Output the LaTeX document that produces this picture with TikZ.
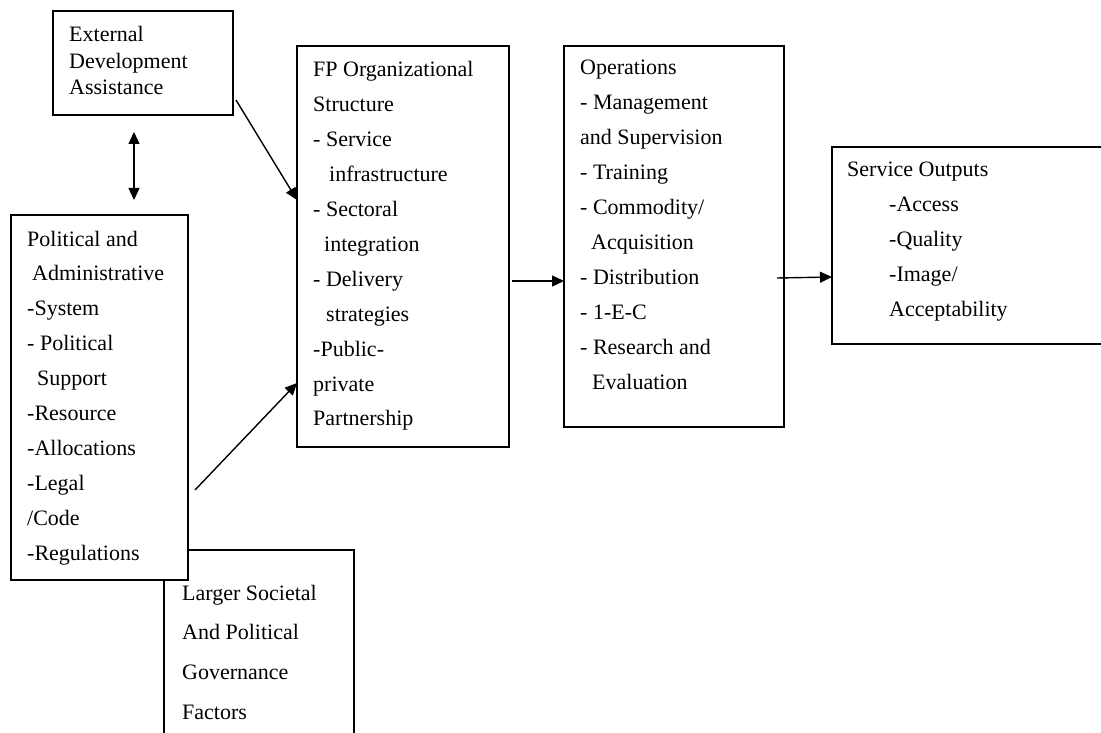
\documentclass[tikz,border=0pt]{standalone}
\usepackage{fontspec}
\setmainfont{Liberation Serif}
\usetikzlibrary{arrows.meta}

\newcommand{\boxlines}[1]{\parbox[t]{300pt}{\raggedright #1}}
\newcommand{\ind}[1]{\hspace*{#1pt}}

\tikzset{
  boxnode/.style={draw, line width=1.4pt, fill=white, inner sep=0pt, outer sep=0pt, anchor=north west},
  txt/.style={inner sep=0pt, anchor=base west},
  body/.style={txt, font=\fontsize{22}{34.9}\selectfont},
  tip/.style={Triangle[length=12pt,width=11pt]},
  flow/.style={line width=1.4pt, -{Triangle[length=12pt,width=11pt]}},
  twoway/.style={line width=1.4pt, {Triangle[length=12pt,width=11pt]}-{Triangle[length=12pt,width=11pt]}}
}

\begin{document}
\begin{tikzpicture}[x=1pt,y=-1pt]
  \useasboundingbox (0,0) rectangle (1101,733);
  \clip (0,0) rectangle (1101,733);
  \fill[white] (0,0) rectangle (1101,733);

  % boxes (the governance box sits behind the political box)
  \node[boxnode, minimum width=190pt, minimum height=210pt] (lrg) at (164,550) {};
  \node[boxnode, minimum width=180pt, minimum height=104pt] (ext) at (53,11) {};
  \node[boxnode, minimum width=177pt, minimum height=365pt] (pol) at (11,215) {};
  \node[boxnode, minimum width=212pt, minimum height=401pt] (fp) at (297,46) {};
  \node[boxnode, minimum width=220pt, minimum height=381pt] (ops) at (564,46) {};
  \node[boxnode, minimum width=300pt, minimum height=197pt] (svc) at (832,147) {};

  % box texts
  \node[txt, font=\fontsize{22}{26.3}\selectfont] (extT) at (69,42)
    {\boxlines{External\\Development\\Assistance}};
  \node[body] (polT) at (27,246)
    {\boxlines{Political and\\\ind{5}Administrative\\-System\\- Political\\\ind{10}Support\\-Resource\\-Allocations\\-Legal\\/Code\\-Regulations}};
  \node[txt, font=\fontsize{22}{39.7}\selectfont] (lrgT) at (182,600)
    {\boxlines{Larger Societal\\And Political\\Governance\\Factors}};
  \node[body] (fpT) at (313,77)
    {\boxlines{FP Organizational\\Structure\\- Service\\\ind{16}infrastructure\\- Sectoral\\\ind{11}integration\\- Delivery\\\ind{13}strategies\\-Public-\\private\\Partnership}};
  \node[body] (opsT) at (580,75)
    {\boxlines{Operations\\- Management\\and Supervision\\- Training\\- Commodity/\\\ind{11}Acquisition\\- Distribution\\- 1-E-C\\- Research and\\\ind{12}Evaluation}};
  \node[body] (svcT) at (847,177)
    {\boxlines{Service Outputs\\\ind{42}-Access\\\ind{42}-Quality\\\ind{42}-Image/\\\ind{42}Acceptability}};

  % connector end points
  \coordinate (pairTop) at (134,132);
  \coordinate (pairBot) at (134,200);
  \coordinate (extOut) at (236,100);
  \coordinate (polOut) at (195,490);
  \coordinate (opsOut) at (777,278);

  % connectors
  \draw[twoway] (pairTop) -- (pairBot);
  \draw[flow] (extOut) -- (fp.west |- 0,200);
  \draw[flow] (polOut) -- (fp.west |- 0,383);
  \draw[flow] ([xshift=3pt]fp.east |- 0,281) -- (ops.west |- 0,281);
  \draw[flow] (opsOut) -- (svc.west |- 0,277);
\end{tikzpicture}
\end{document}
